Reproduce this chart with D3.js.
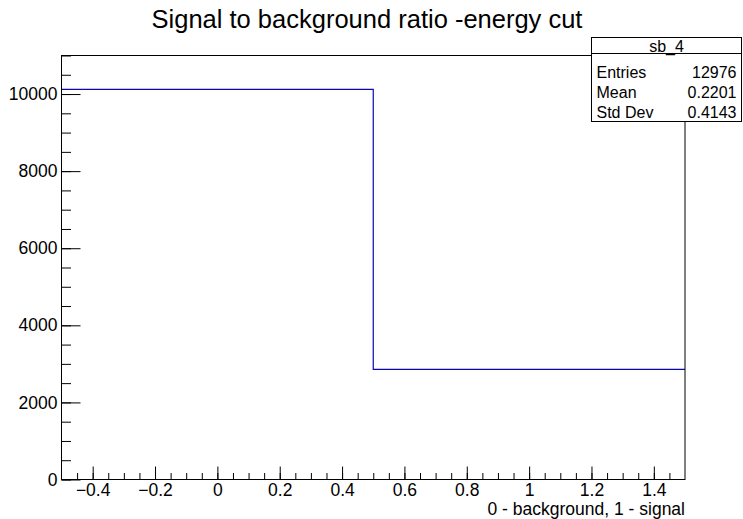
<!DOCTYPE html>
<html>
<head>
<meta charset="utf-8">
<script src="https://cdn.jsdelivr.net/npm/d3@7"></script>
<style>
  body { margin: 0; background: #fff; }
  text { font-family: "Liberation Sans", Arial, Helvetica, sans-serif; fill: #000; }
</style>
</head>
<body>
<svg id="chart"></svg>
<script>
// histogram sb_4
var binEdges = [-0.5, 0.5, 1.5];
var binCounts = [10120, 2856];
var xTickValues = [-0.4, -0.2, 0, 0.2, 0.4, 0.6, 0.8, 1, 1.2, 1.4];
var yTickValues = [0, 2000, 4000, 6000, 8000, 10000];
var statsName = "sb_4";
var statsLabels = ["Entries", "Mean", "Std Dev"];
var statsValues = ["12976", "0.2201", "0.4143"];
var title = "Signal to background ratio -energy cut";
var xTitle = "0 - background, 1 - signal";

var W = 743, H = 519;
var margin = {top: 55.5, left: 61.5, right: 58, bottom: 39.5};
var width = W - margin.left - margin.right;
var height = H - margin.top - margin.bottom;

var svg = d3.select("#chart")
	.attr("width", W)
	.attr("height", H);

var x = d3.scaleLinear().domain([-0.5, 1.5]).range([0, width]);
var y = d3.scaleLinear().domain([0, 11000]).range([height, 0]);

var g = svg.append("g")
	.attr("transform", "translate(" + margin.left + "," + margin.top + ")");

// minor ticks first
var xMinor = x.ticks(40).filter(d => d > -0.5 && d < 1.5);
g.append("g")
	.attr("transform", "translate(0," + height + ")")
	.call(d3.axisBottom(x).tickValues(xMinor).tickSizeInner(-6.5).tickSizeOuter(0).tickFormat(""))
	.call(a => a.select(".domain").remove());
var yMinor = d3.range(0, 11001, 500);
g.append("g")
	.call(d3.axisLeft(y).tickValues(yMinor).tickSizeInner(-9.5).tickSizeOuter(0).tickFormat(""))
	.call(a => a.select(".domain").remove());

// major ticks with labels
g.append("g")
	.attr("transform", "translate(0," + height + ")")
	.call(d3.axisBottom(x).tickValues(xTickValues).tickSizeInner(-13).tickSizeOuter(0)
		.tickPadding(4).tickFormat(d3.format("~g")))
	.call(a => a.select(".domain").remove())
	.call(a => a.selectAll("text").attr("font-size", 17.5).attr("font-family", null));
g.append("g")
	.call(d3.axisLeft(y).tickValues(yTickValues).tickSizeInner(-19).tickSizeOuter(0)
		.tickPadding(4).tickFormat(d3.format("d")))
	.call(a => a.select(".domain").remove())
	.call(a => a.selectAll("text").attr("font-size", 17.5).attr("font-family", null));

g.selectAll(".tick line").attr("stroke", "#000");

// histogram outline
var pts = [];
binCounts.forEach((c, i) => {
	pts.push([binEdges[i], c]);
	pts.push([binEdges[i + 1], c]);
});
g.append("path")
	.datum(pts)
	.attr("fill", "none")
	.attr("stroke", "#0808b4")
	.attr("stroke-width", 1.2)
	.attr("d", d3.line().x(d => x(d[0])).y(d => y(d[1])));

// frame
g.append("rect")
	.attr("width", width)
	.attr("height", height)
	.attr("fill", "none")
	.attr("stroke", "#000");

// title
svg.append("text")
	.attr("x", 367)
	.attr("y", 28)
	.attr("text-anchor", "middle")
	.attr("font-size", 25.5)
	.text(title);

// axis title
svg.append("text")
	.attr("x", margin.left + width)
	.attr("y", 514.5)
	.attr("text-anchor", "end")
	.attr("font-size", 17.5)
	.text(xTitle);

// stats box
var bx = 591.5, by = 37.5, bw = 150, bh = 84;
var stats = svg.append("g");
stats.append("rect")
	.attr("x", bx).attr("y", by).attr("width", bw).attr("height", bh)
	.attr("fill", "#fff").attr("stroke", "#000");
stats.append("line")
	.attr("x1", bx).attr("x2", bx + bw).attr("y1", by + 16).attr("y2", by + 16)
	.attr("stroke", "#000");
stats.append("text")
	.attr("x", bx + bw / 2).attr("y", by + 14)
	.attr("text-anchor", "middle")
	.attr("font-size", 16)
	.text(statsName);
statsLabels.forEach((lab, i) => {
	var ty = by + 16 + 20 * i + 24;
	stats.append("text").attr("x", bx + 5).attr("y", ty).attr("font-size", 16).text(lab);
	stats.append("text").attr("x", bx + bw - 5).attr("y", ty).attr("text-anchor", "end")
		.attr("font-size", 16).text(statsValues[i]);
});
</script>
</body>
</html>
